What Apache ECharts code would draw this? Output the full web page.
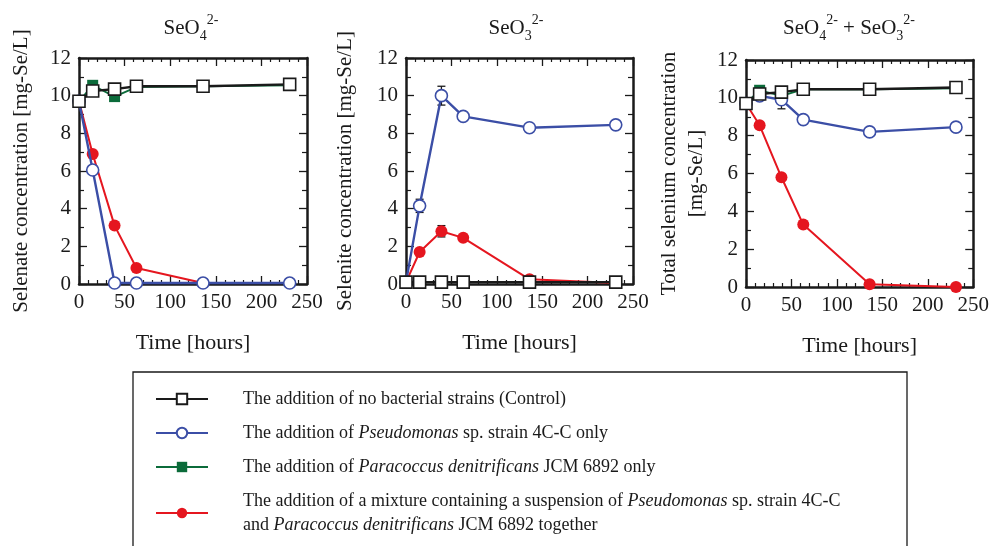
<!DOCTYPE html>
<html><head><meta charset="utf-8">
<script src="https://cdn.jsdelivr.net/npm/echarts@6/dist/echarts.min.js"></script>
<style>html,body{margin:0;padding:0;background:#fff}#c{width:992px;height:546px}</style>
</head><body><div id="c"></div>
<script>
// ---- data ----
const TIME = [0, 15, 39, 63, 136, 231];
const X_MIN = 0, X_MAX = 250, X_STEP = 50;
const Y_MIN = 0, Y_MAX = 12, Y_STEP = 2;

const NAME_CONTROL = 'Control';
const NAME_PSEUDO = 'Pseudomonas';
const NAME_PARA = 'Paracoccus';
const NAME_MIX = 'Mixture';

// Panel 1: selenate (SeO4 2-)
const selenate_control = [9.7, 10.25, 10.35, 10.5, 10.5, 10.6];
const selenate_pseudo  = [9.7, 6.05, 0.05, 0.05, 0.05, 0.05];
const selenate_para    = [9.7, 10.55, 9.95, 10.45, 10.5, 10.55];
const selenate_mix     = [9.7, 6.9, 3.1, 0.85, 0.05, 0.05];

// Panel 2: selenite (SeO3 2-)
const selenite_control = [0.1, 0.1, 0.1, 0.1, 0.1, 0.1];
const selenite_pseudo  = [0.1, 4.15, 10.0, 8.9, 8.3, 8.45];
const selenite_para    = [0.1, 0.1, 0.1, 0.1, 0.1, 0.1];
const selenite_mix     = [0.1, 1.7, 2.8, 2.45, 0.25, 0.05];
const selenite_pseudo_err = [0, 0.35, 0.5, 0, 0, 0];
const selenite_mix_err    = [0, 0, 0.3, 0, 0, 0];

// Panel 3: total selenium
const total_control = [9.7, 10.2, 10.3, 10.45, 10.45, 10.55];
const total_pseudo  = [9.7, 10.1, 9.9, 8.85, 8.2, 8.45];
const total_para    = [9.7, 10.4, 10.1, 10.45, 10.45, 10.5];
const total_mix     = [9.7, 8.55, 5.8, 3.3, 0.15, 0.0];
const total_pseudo_err = [0, 0, 0.48, 0, 0, 0];

const Y_NAMES = ['Selenate concentration [mg-Se/L]', 'Selenite concentration [mg-Se/L]', 'Total selenium concentration\n[mg-Se/L]'];
const X_NAME = 'Time [hours]';
const TITLES = ['{b|SeO}{sub|4}{sup|2-}', '{b|SeO}{sub|3}{sup|2-}', '{b|SeO}{sub|4}{sup|2-}{b| + SeO}{sub|3}{sup|2-}'];

const LEGEND_TEXT = {};
LEGEND_TEXT[NAME_CONTROL] = '{n|The addition of no bacterial strains (Control)}';
LEGEND_TEXT[NAME_PSEUDO] = '{n|The addition of }{i|Pseudomonas}{n| sp. strain 4C-C only}';
LEGEND_TEXT[NAME_PARA] = '{n|The addition of }{i|Paracoccus denitrificans}{n| JCM 6892 only}';
LEGEND_TEXT[NAME_MIX] = '{n|The addition of a mixture containing a suspension of }{i|Pseudomonas}{n| sp. strain 4C-C}\n{n|and }{i|Paracoccus denitrificans}{n| JCM 6892 together}';

// ---- styles ----
const FONT = 'Liberation Serif';
const INK = '#1a1a1a';
const BLUE = '#3b4ea6', RED = '#e5161f', GREEN = '#0b6b3a';

const GRIDS = [
  {left: 79, top: 58, width: 228, height: 226},
  {left: 406, top: 58, width: 227, height: 226},
  {left: 746, top: 60, width: 228, height: 227}
];
const Y_NAME_GAPS = [44, 47, 36];

function pairs(arr){ return TIME.map((t, i) => [t, arr[i]]); }
function triples(arr, err){ return TIME.map((t, i) => [t, arr[i], err[i]]); }

const tickStyle = {inside: true, length: 8, lineStyle: {color: INK, width: 1.3}};
const minorStyle = {length: 4, lineStyle: {color: INK, width: 1.2}};
const axisLine = {show: true, onZero: false, lineStyle: {color: INK, width: 2.5}};

const xAxes = [], yAxes = [];
GRIDS.forEach((g, i) => {
  xAxes.push({
    type: 'value', gridIndex: i, min: X_MIN, max: X_MAX, interval: X_STEP, position: 'bottom',
    axisLine, axisTick: tickStyle, minorTick: Object.assign({show: true, splitNumber: 5}, minorStyle),
    splitLine: {show: false},
    axisLabel: {fontFamily: FONT, fontSize: 21, color: INK, margin: 8},
    name: X_NAME, nameLocation: 'middle', nameGap: 48,
    nameTextStyle: {fontFamily: FONT, fontSize: 22, color: INK}
  });
  yAxes.push({
    type: 'value', gridIndex: i, min: Y_MIN, max: Y_MAX, interval: Y_STEP, position: 'left',
    axisLine, axisTick: tickStyle, minorTick: Object.assign({show: true, splitNumber: 2}, minorStyle, {length: 5}),
    splitLine: {show: false},
    axisLabel: {fontFamily: FONT, fontSize: 21, color: INK, margin: 8},
    name: Y_NAMES[i], nameLocation: 'middle', nameGap: Y_NAME_GAPS[i],
    nameTextStyle: {fontFamily: FONT, fontSize: 21, color: INK, lineHeight: 27}
  });
});
GRIDS.forEach((g, i) => {
  xAxes.push({
    type: 'value', gridIndex: i, min: X_MIN, max: X_MAX, interval: X_STEP, position: 'top',
    axisLine, axisTick: tickStyle, minorTick: Object.assign({show: true, splitNumber: 5}, minorStyle),
    splitLine: {show: false}, axisLabel: {show: false}
  });
  yAxes.push({
    type: 'value', gridIndex: i, min: Y_MIN, max: Y_MAX, interval: Y_STEP, position: 'right',
    axisLine, axisTick: tickStyle, minorTick: Object.assign({show: true, splitNumber: 2}, minorStyle, {length: 5}),
    splitLine: {show: false}, axisLabel: {show: false}
  });
});

function lineSeries(name, data, i){
  const base = {type: 'line', name, data: pairs(data), xAxisIndex: i, yAxisIndex: i, animation: false, silent: true};
  if (name === NAME_CONTROL) return Object.assign(base, {symbol: 'rect', symbolSize: 12,
    itemStyle: {color: '#fff', borderColor: INK, borderWidth: 1.6}, lineStyle: {color: INK, width: 2.4}, z: 5});
  if (name === NAME_PSEUDO) return Object.assign(base, {symbol: 'circle', symbolSize: 12,
    itemStyle: {color: '#fff', borderColor: BLUE, borderWidth: 1.6}, lineStyle: {color: BLUE, width: 2.4}, z: 4});
  if (name === NAME_PARA) return Object.assign(base, {symbol: 'rect', symbolSize: 11,
    itemStyle: {color: GREEN, borderColor: GREEN, borderWidth: 0}, lineStyle: {color: GREEN, width: 1.8}, z: 2});
  return Object.assign(base, {symbol: 'circle', symbolSize: 12,
    itemStyle: {color: RED, borderColor: RED, borderWidth: 0}, lineStyle: {color: RED, width: 2}, z: 3});
}

function errSeries(data, err, i){
  return {
    type: 'custom', xAxisIndex: i, yAxisIndex: i, data: triples(data, err), z: 1, silent: true, animation: false,
    renderItem: function(params, api){
      const e = api.value(2);
      if (!e) return {type: 'group', children: []};
      const x = api.value(0), y = api.value(1);
      const a = api.coord([x, y + e]), b = api.coord([x, y - e]);
      const w = 4, st = {stroke: INK, lineWidth: 1.3};
      return {type: 'group', children: [
        {type: 'line', shape: {x1: a[0], y1: a[1], x2: b[0], y2: b[1]}, style: st},
        {type: 'line', shape: {x1: a[0] - w, y1: a[1], x2: a[0] + w, y2: a[1]}, style: st},
        {type: 'line', shape: {x1: b[0] - w, y1: b[1], x2: b[0] + w, y2: b[1]}, style: st}
      ]};
    }
  };
}

const series = [
  lineSeries(NAME_PARA, selenate_para, 0), lineSeries(NAME_MIX, selenate_mix, 0),
  lineSeries(NAME_PSEUDO, selenate_pseudo, 0), lineSeries(NAME_CONTROL, selenate_control, 0),
  errSeries(selenite_pseudo, selenite_pseudo_err, 1), errSeries(selenite_mix, selenite_mix_err, 1),
  lineSeries(NAME_PARA, selenite_para, 1), lineSeries(NAME_MIX, selenite_mix, 1),
  lineSeries(NAME_PSEUDO, selenite_pseudo, 1), lineSeries(NAME_CONTROL, selenite_control, 1),
  errSeries(total_pseudo, total_pseudo_err, 2),
  lineSeries(NAME_PARA, total_para, 2), lineSeries(NAME_MIX, total_mix, 2),
  lineSeries(NAME_PSEUDO, total_pseudo, 2), lineSeries(NAME_CONTROL, total_control, 2)
];

const titleRich = {
  b: {fontFamily: FONT, fontSize: 21, color: INK, lineHeight: 30},
  sub: {fontFamily: FONT, fontSize: 14, color: INK, verticalAlign: 'bottom', lineHeight: 18},
  sup: {fontFamily: FONT, fontSize: 14, color: INK, verticalAlign: 'top', lineHeight: 18}
};
const TITLE_X = [191, 516, 849];
const graphic = TITLES.map((t, i) => ({
  type: 'text', x: TITLE_X[i], y: 28, silent: true,
  style: {text: t, rich: titleRich, align: 'center', verticalAlign: 'middle', font: '21px "Liberation Serif"', fill: INK}
}));
graphic.push({type: 'rect', silent: true, shape: {x: 133, y: 372, width: 774, height: 220},
  style: {fill: 'none', stroke: INK, lineWidth: 1.3}});

const option = {
  backgroundColor: '#fff',
  animation: false,
  grid: GRIDS,
  xAxis: xAxes,
  yAxis: yAxes,
  series,
  graphic,
  legend: {
    orient: 'vertical', left: 150, top: 382, width: 760, height: 300,
    itemWidth: 52, itemHeight: 13, itemGap: 10,
    selectedMode: false,
    data: [NAME_CONTROL, NAME_PSEUDO, NAME_PARA, NAME_MIX],
    formatter: n => LEGEND_TEXT[n],
    textStyle: {
      fontFamily: FONT, fontSize: 18, color: INK, lineHeight: 24, padding: [0, 0, 0, 30],
      rich: {
        n: {fontFamily: FONT, fontSize: 18, color: INK, lineHeight: 24},
        i: {fontFamily: FONT, fontSize: 18, color: INK, lineHeight: 24, fontStyle: 'italic'}
      }
    }
  }
};
const chart = echarts.init(document.getElementById('c'), null, {renderer: 'canvas'});
chart.setOption(option);
</script>
</body></html>
